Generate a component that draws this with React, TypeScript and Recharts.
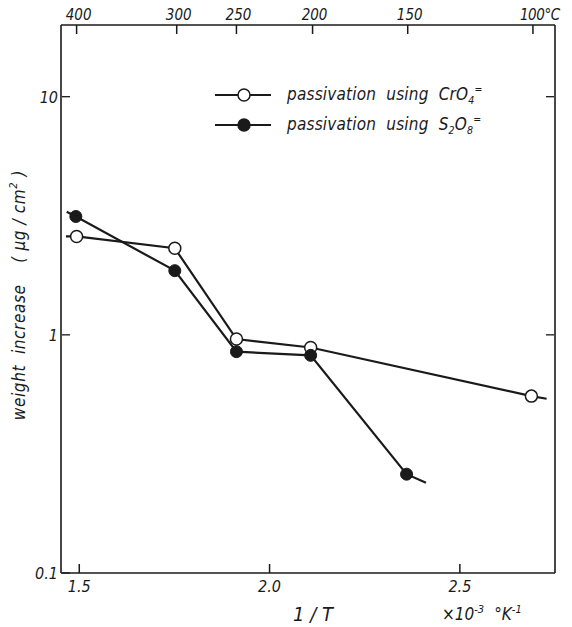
import { LineChart, Line, XAxis, YAxis, Legend } from "recharts"

// 1/T (x10^-3 K^-1) and weight increase (µg/cm²)
const cro4X = [1.493, 1.751, 1.913, 2.108, 2.688]
const cro4Y = [2.59, 2.31, 0.96, 0.885, 0.553]
const s2o8X = [1.491, 1.751, 1.913, 2.108, 2.36]
const s2o8Y = [3.14, 1.86, 0.85, 0.82, 0.26]

// short line ends drawn past the first and last points
const cro4StubX = [1.465, 2.728]
const cro4StubY = [2.59, 0.539]
const s2o8StubX = [1.467, 2.411]
const s2o8StubY = [3.29, 0.2395]

const bottomTicks = [1.5, 2.0, 2.5]
const topTicks = [1.493, 1.756, 1.913, 2.113, 2.363, 2.692]
const topTickLabels = ["400", "300", "250", "200", "150", "100°C"]
const yTicks = [0.1, 1, 10]
const yTickLabels = ["0.1", "1", "10"]
const rightTicks = [1, 10]

const font = "'Liberation Sans Narrow', 'DejaVu Sans Condensed', 'Liberation Sans', sans-serif"
const ink = "#1a1a1a"

function build(xs: number[], ys: number[], sx: number[], sy: number[]) {
    const pts = xs.map((x, i) => ({ x, y: ys[i], stub: false }))
    return [{ x: sx[0], y: sy[0], stub: true }, ...pts, { x: sx[1], y: sy[1], stub: true }]
}

const cro4Data = build(cro4X, cro4Y, cro4StubX, cro4StubY)
const s2o8Data = build(s2o8X, s2o8Y, s2o8StubX, s2o8StubY)

const textStyle = { fontFamily: font, fontStyle: "italic", fontSize: 16, fill: ink }

// axis box edges (chart margins + axis size)
const plotTop = 25
const plotBottom = 574

const BottomTick = (p: any) => (
    <g>
        <rect x={p.x - 0.75} y={plotBottom - 10} width={1.5} height={9} fill={ink} />
        <text x={p.x} y={plotBottom + 18} textAnchor="middle" style={textStyle}>
            {p.payload.value.toFixed(1)}
        </text>
    </g>
)

const TopTick = (p: any) => {
    const i = topTicks.indexOf(p.payload.value)
    const last = i === topTickLabels.length - 1
    return (
        <g>
            <rect x={p.x - 0.75} y={plotTop} width={1.5} height={9} fill={ink} />
            <text
                x={last ? p.x - 13 : p.x + 2}
                y={plotTop - 5}
                textAnchor={last ? "start" : "middle"}
                style={{ ...textStyle, fontSize: 15, letterSpacing: last ? -0.4 : 0 }}
            >
                {topTickLabels[i]}
            </text>
        </g>
    )
}

const LeftTick = (p: any) => (
    <g>
        <line x1={p.x + 1} y1={p.y} x2={p.x + 9} y2={p.y} stroke={ink} strokeWidth={1.3} />
        <text x={p.x - 3} y={p.y + 6} textAnchor="end" style={textStyle}>
            {yTickLabels[yTicks.indexOf(p.payload.value)]}
        </text>
    </g>
)

const RightTick = (p: any) => (
    <line x1={p.x - 1} y1={p.y} x2={p.x - 9} y2={p.y} stroke={ink} strokeWidth={1.3} />
)

const OpenDot = (p: any) =>
    p.payload.stub ? (
        <g key={p.key} />
    ) : (
        <circle key={p.key} cx={p.cx} cy={p.cy} r={6} fill="#fff" stroke={ink} strokeWidth={1.5} />
    )

const FilledDot = (p: any) =>
    p.payload.stub ? (
        <g key={p.key} />
    ) : (
        <circle key={p.key} cx={p.cx} cy={p.cy} r={6} fill={ink} stroke={ink} strokeWidth={1} />
    )

const subStyle = { fontSize: "0.62em" }

const legendRows = [
    { open: true, body: <>CrO<sub style={subStyle}>4</sub><sup style={subStyle}>=</sup></> },
    { open: false, body: <>S<sub style={subStyle}>2</sub>O<sub style={subStyle}>8</sub><sup style={subStyle}>=</sup></> },
]

const renderLegend = () => (
    <div style={{ fontFamily: font, fontStyle: "italic", fontSize: 17, color: ink, letterSpacing: 0.2, lineHeight: 1 }}>
        {legendRows.map((r, i) => (
            <div key={i} style={{ display: "flex", alignItems: "center", height: 30 }}>
                <svg width={64} height={16} style={{ marginRight: 8 }}>
                    <line x1={0} y1={8} x2={56} y2={8} stroke={ink} strokeWidth={2.2} />
                    <circle cx={29} cy={8} r={6} fill={r.open ? "#fff" : ink} stroke={ink} strokeWidth={1.5} />
                </svg>
                <span style={{ wordSpacing: 5 }}>passivation using {r.body}</span>
            </div>
        ))}
    </div>
)

export default function App() {
    return (
        <div style={{ position: "absolute", left: 0, top: 0 }}>
            <LineChart width={572} height={627} margin={{ top: 24, right: 16, bottom: 53, left: 60 }}>
                <XAxis
                    xAxisId="b"
                    dataKey="x"
                    type="number"
                    domain={[1.452, 2.75]}
                    ticks={bottomTicks}
                    interval={0}
                    height={1}
                    tickSize={0}
                    tickMargin={0}
                    tickLine={false}
                    tick={BottomTick}
                    axisLine={{ stroke: ink, strokeWidth: 1.6 }}
                    allowDataOverflow
                    label={{
                        content: () => (
                            <g>
                                <text x={313} y={621} textAnchor="middle" style={{ ...textStyle, fontSize: 20 }}>
                                    1 / T
                                </text>
                                <text x={442} y={620} style={{ ...textStyle, fontSize: 17 }}>
                                    ×10
                                    <tspan dy={-7} fontSize={11}>-3</tspan>
                                    <tspan dy={7} dx={10}>°K</tspan>
                                    <tspan dy={-7} fontSize={11}>-1</tspan>
                                </text>
                            </g>
                        ),
                    }}
                />
                <XAxis
                    xAxisId="t"
                    dataKey="x"
                    orientation="top"
                    type="number"
                    domain={[1.452, 2.75]}
                    ticks={topTicks}
                    interval={0}
                    height={1}
                    tickSize={0}
                    tickMargin={0}
                    tickLine={false}
                    tick={TopTick}
                    axisLine={{ stroke: ink, strokeWidth: 1.6 }}
                    allowDataOverflow
                />
                <YAxis
                    yAxisId="l"
                    type="number"
                    scale="log"
                    domain={[0.1, 20]}
                    ticks={yTicks}
                    interval={0}
                    width={1}
                    tickSize={0}
                    tickMargin={0}
                    tickLine={false}
                    tick={LeftTick}
                    axisLine={{ stroke: ink, strokeWidth: 1.6 }}
                    allowDataOverflow
                    label={{
                        content: () => (
                            <text
                                x={19}
                                y={295}
                                transform="rotate(-90 19 295)"
                                textAnchor="middle"
                                dominantBaseline="central"
                                style={{ ...textStyle, fontSize: 17, letterSpacing: 0.6, whiteSpace: "pre" }}
                            >
                                {"weight  increase    ( µg / cm"}
                                <tspan dy={-6} fontSize={11}>2</tspan>
                                <tspan dy={6}>{" )"}</tspan>
                            </text>
                        ),
                    }}
                />
                <YAxis
                    yAxisId="r"
                    orientation="right"
                    type="number"
                    scale="log"
                    domain={[0.1, 20]}
                    ticks={rightTicks}
                    interval={0}
                    width={1}
                    tickSize={0}
                    tickMargin={0}
                    tickLine={false}
                    tick={RightTick}
                    axisLine={{ stroke: ink, strokeWidth: 1.6 }}
                    allowDataOverflow
                />
                <Legend
                    layout="vertical"
                    align="center"
                    verticalAlign="middle"
                    content={renderLegend}
                    wrapperStyle={{ left: 215, top: 80, width: 320, height: 60 }}
                />
                <Line
                    xAxisId="b"
                    yAxisId="l"
                    data={cro4Data}
                    dataKey="y"
                    name="passivation using CrO4="
                    stroke={ink}
                    strokeWidth={2.2}
                    dot={OpenDot}
                    activeDot={false}
                    isAnimationActive={false}
                />
                <Line
                    xAxisId="b"
                    yAxisId="l"
                    data={s2o8Data}
                    dataKey="y"
                    name="passivation using S2O8="
                    stroke={ink}
                    strokeWidth={2.2}
                    dot={FilledDot}
                    activeDot={false}
                    isAnimationActive={false}
                />
            </LineChart>
        </div>
    )
}
